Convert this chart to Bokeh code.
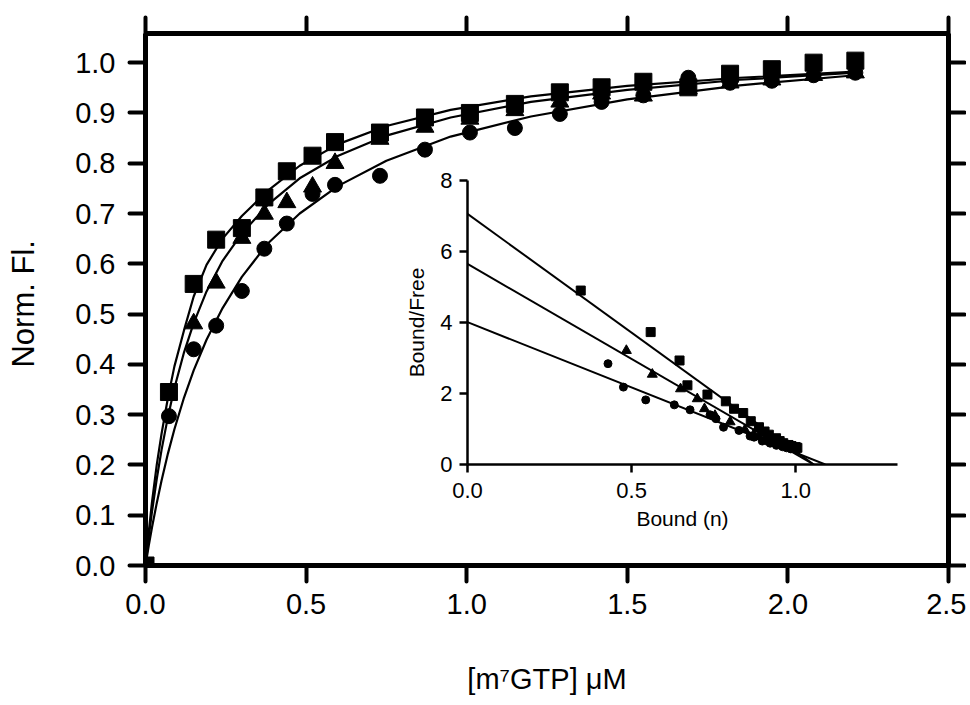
from bokeh.plotting import figure
from bokeh.models import Range1d, LinearAxis, FixedTicker, NumeralTickFormatter, CustomJSTickFormatter
from bokeh.embed import file_html
from bokeh.resources import INLINE

FONT = "Liberation Sans"

# ---------------- main panel data ----------------
conc = [0.0, 0.073, 0.15, 0.22, 0.30, 0.37, 0.44, 0.52, 0.59, 0.73, 0.87, 1.01,
        1.15, 1.29, 1.42, 1.55, 1.69, 1.82, 1.95, 2.08, 2.21]
sq_fl = [0.0, 0.345, 0.560, 0.648, 0.671, 0.732, 0.784, 0.815, 0.842, 0.861, 0.891,
         0.900, 0.918, 0.941, 0.951, 0.962, 0.951, 0.978, 0.987, 1.000, 1.004]
conc_tri = [0.0, 0.15, 0.22, 0.30, 0.37, 0.44, 0.52, 0.59, 0.73, 0.87, 1.01,
            1.15, 1.29, 1.42, 1.55, 1.69, 1.82, 1.95, 2.08, 2.21]
tri_fl = [0.0, 0.481, 0.562, 0.651, 0.699, 0.722, 0.753, 0.800, 0.848, 0.872, 0.888,
          0.905, 0.922, 0.938, 0.934, 0.948, 0.960, 0.966, 0.975, 0.980]
circ_fl = [0.0, 0.297, 0.430, 0.477, 0.546, 0.630, 0.680, 0.739, 0.757, 0.775, 0.827,
           0.861, 0.870, 0.898, 0.922, 0.935, 0.970, 0.960, 0.964, 0.975, 0.980]

# fitted curves
fit_x = [0.0, 0.01, 0.02, 0.035, 0.05, 0.07, 0.09, 0.12, 0.15, 0.19, 0.24, 0.30,
         0.38, 0.48, 0.60, 0.75, 0.95, 1.20, 1.50, 1.85, 2.21]
fit_sq = [0.0, 0.066, 0.125, 0.200, 0.262, 0.334, 0.396, 0.468, 0.535, 0.598, 0.650,
          0.695, 0.745, 0.795, 0.838, 0.874, 0.906, 0.933, 0.954, 0.970, 0.982]
fit_tri = [0.0, 0.056, 0.106, 0.172, 0.230, 0.296, 0.353, 0.424, 0.482, 0.545, 0.606,
           0.660, 0.717, 0.770, 0.815, 0.855, 0.891, 0.922, 0.946, 0.966, 0.980]
fit_circ = [0.0, 0.039, 0.075, 0.124, 0.169, 0.223, 0.271, 0.334, 0.388, 0.449, 0.512,
            0.574, 0.640, 0.700, 0.755, 0.805, 0.853, 0.893, 0.927, 0.955, 0.975]

x_ticks = [0.0, 0.5, 1.0, 1.5, 2.0, 2.5]
y_ticks = [0.0, 0.1, 0.2, 0.3, 0.4, 0.5, 0.6, 0.7, 0.8, 0.9, 1.0]

# ---------------- inset (Scatchard) data ----------------
sq_bound = [0.345, 0.558, 0.646, 0.670, 0.731, 0.787, 0.812, 0.840, 0.863, 0.888,
            0.905, 0.918, 0.940, 0.951, 0.962, 0.978, 0.987, 1.000, 1.005]
sq_ratio = [4.90, 3.73, 2.93, 2.23, 1.97, 1.78, 1.57, 1.45, 1.22, 1.05,
            0.93, 0.84, 0.74, 0.66, 0.60, 0.55, 0.52, 0.49, 0.47]
tri_bound = [0.484, 0.563, 0.649, 0.700, 0.722, 0.754, 0.800, 0.845, 0.872, 0.888,
             0.905, 0.922, 0.938, 0.948, 0.960, 0.968, 0.977, 0.985]
tri_ratio = [3.21, 2.54, 2.13, 1.85, 1.57, 1.38, 1.20, 0.98, 0.85, 0.78,
             0.70, 0.64, 0.60, 0.56, 0.53, 0.51, 0.49, 0.47]
circ_bound = [0.428, 0.475, 0.543, 0.630, 0.678, 0.739, 0.757, 0.780, 0.827, 0.861,
              0.873, 0.898, 0.922, 0.941, 0.960, 0.972, 0.985, 1.003]
circ_ratio = [2.84, 2.18, 1.82, 1.68, 1.54, 1.40, 1.29, 1.05, 0.96, 0.80,
              0.77, 0.66, 0.60, 0.54, 0.50, 0.47, 0.44, 0.41]

# Scatchard fit lines (end points)
line_sq_x, line_sq_y = [0.0, 1.055], [7.06, 0.0]
line_tri_x, line_tri_y = [0.0, 1.055], [5.65, 0.0]
line_circ_x, line_circ_y = [0.0, 1.09], [4.01, 0.0]

inset_x_ticks = [0.0, 0.5, 1.0]
inset_y_ticks = [0, 2, 4, 6, 8]

# ================= main figure =================
p = figure(width=966, height=700, x_range=Range1d(0, 2.5), y_range=Range1d(0, 1.058),
           output_backend="svg", toolbar_location=None,
           min_border_left=145, min_border_right=18, min_border_top=33, min_border_bottom=135)
p.outline_line_color = None
p.grid.visible = False
p.background_fill_color = "white"
p.border_fill_color = "white"

top_axis = LinearAxis()
right_axis = LinearAxis()
p.add_layout(top_axis, "above")
p.add_layout(right_axis, "right")

for ax in p.xaxis:
    ax.ticker = FixedTicker(ticks=x_ticks)
for ax in p.yaxis:
    ax.ticker = FixedTicker(ticks=y_ticks)

for ax in p.axis:
    ax.axis_line_width = 5
    ax.axis_line_color = "black"
    ax.major_tick_line_color = "black"
    ax.major_tick_line_width = 4
    ax.major_tick_line_cap = "round"
    ax.major_tick_out = 16
    ax.major_tick_in = 0
    ax.minor_tick_line_color = None
    ax.major_label_text_font = FONT
    ax.major_label_text_font_size = "29px"
    ax.major_label_text_color = "black"
    ax.axis_label_text_color = "black"
    ax.formatter = NumeralTickFormatter(format="0.0")
    ax.major_label_standoff = 12

p.left[0].major_label_standoff = 14

for ax in (top_axis, right_axis):
    ax.formatter = CustomJSTickFormatter(code="return ''")
    ax.major_label_text_font_size = "1px"
    ax.major_label_standoff = 0

bx = p.below[0]
bx.axis_label = "[m⁷GTP] μM"
bx.axis_label_text_font = FONT
bx.axis_label_text_font_size = "29px"
bx.axis_label_text_font_style = "normal"
bx.axis_label_standoff = 46

ly = p.left[0]
ly.axis_label = "Norm.  Fl."
ly.axis_label_text_font = FONT
ly.axis_label_text_font_size = "31px"
ly.axis_label_text_font_style = "normal"
ly.axis_label_standoff = 31

p.line(fit_x, fit_sq, line_color="black", line_width=2.2)
p.line(fit_x, fit_tri, line_color="black", line_width=2.2)
p.line(fit_x, fit_circ, line_color="black", line_width=2.2)

p.scatter(conc, sq_fl, marker="square", size=17, color="black")
p.scatter(conc_tri, tri_fl, marker="triangle", size=18, color="black")
p.scatter(conc, circ_fl, marker="circle", size=15, color="black")

# ================= inset figure =================
q = figure(width=537, height=394, x_range=Range1d(0, 1.31), y_range=Range1d(0, 8),
           output_backend="svg", toolbar_location=None,
           min_border_left=87, min_border_right=20, min_border_top=30, min_border_bottom=80)
q.outline_line_color = None
q.grid.visible = False
q.background_fill_color = None
q.border_fill_color = None
q.xaxis.ticker = FixedTicker(ticks=inset_x_ticks)
q.yaxis.ticker = FixedTicker(ticks=inset_y_ticks)
q.xaxis.formatter = NumeralTickFormatter(format="0.0")
q.yaxis.formatter = NumeralTickFormatter(format="0")
for ax in q.axis:
    ax.axis_line_width = 2.5
    ax.axis_line_color = "black"
    ax.major_tick_line_color = "black"
    ax.major_tick_line_width = 2.5
    ax.major_tick_out = 8
    ax.major_tick_in = 0
    ax.minor_tick_line_color = None
    ax.major_label_text_font = FONT
    ax.major_label_text_font_size = "22px"
    ax.major_label_text_color = "black"
    ax.axis_label_text_font = FONT
    ax.axis_label_text_font_size = "21px"
    ax.axis_label_text_font_style = "normal"
    ax.axis_label_text_color = "black"
q.xaxis.major_label_standoff = 10
q.yaxis.major_label_standoff = 7
q.xaxis.axis_label = "Bound (n)"
q.xaxis.axis_label_standoff = 6
q.yaxis.axis_label = "Bound/Free"
q.yaxis.axis_label_standoff = 9

q.line(line_sq_x, line_sq_y, line_color="black", line_width=2)
q.line(line_tri_x, line_tri_y, line_color="black", line_width=2)
q.line(line_circ_x, line_circ_y, line_color="black", line_width=2)
q.scatter(sq_bound, sq_ratio, marker="square", size=9, color="black")
q.scatter(tri_bound, tri_ratio, marker="triangle", size=10, color="black")
q.scatter(circ_bound, circ_ratio, marker="circle", size=8, color="black")

q.styles = {"position": "absolute", "left": "380px", "top": "150px"}

open("out.html", "w").write(file_html([p, q], INLINE))
